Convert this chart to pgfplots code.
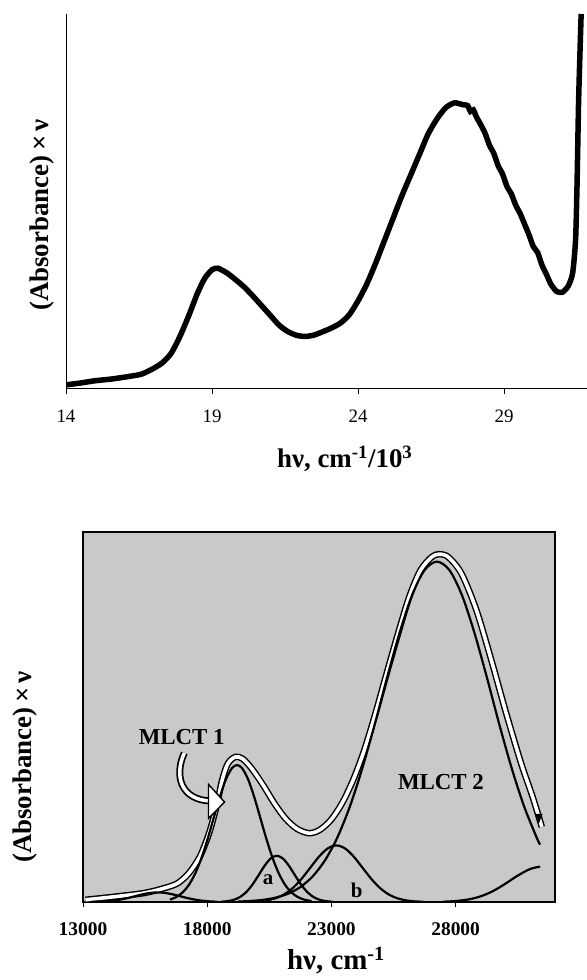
\documentclass[border=0pt]{standalone}
\usepackage{fontspec}
\setmainfont{Liberation Serif}
\usepackage{pgfplots}
\pgfplotsset{compat=1.18}
\usetikzlibrary{arrows.meta}
\begin{document}
\begin{tikzpicture}
\useasboundingbox (0,0) rectangle (587bp,980bp);
% ---------------- top panel ----------------
\begin{axis}[
  at={(66bp,591bp)}, anchor=south west,
  scale only axis, width=521bp, height=375bp,
  xmin=14, xmax=31.84, ymin=0, ymax=100,
  axis x line*=bottom, axis y line*=left,
  axis line style={line width=1bp},
  xtick={14,19,24,29}, ytick=\empty,
  tick align=outside, major tick length=5bp,
  tick style={line width=0.8bp, black},
  /pgf/number format/assume math mode=true,
  xticklabel style={font=\fontsize{19}{21}\selectfont, yshift=-12bp},
  xlabel={\textbf{hν, cm\textsuperscript{-1}/10\textsuperscript{3}}},
  xlabel style={font=\fontsize{27}{29}\selectfont, at={(axis description cs:0.535,0)}, anchor=north, yshift=-54bp},
  ylabel={\textbf{(Absorbance)\,×\,ν}},
  ylabel style={font=\fontsize{27}{29}\selectfont, at={(axis description cs:-0.046,0.464)}, anchor=center},
]
\addplot[black, line width=5.5bp, smooth, tension=0.4] coordinates {
(14.0,1.1) (14.5,1.6) (15.0,2.2) (15.6,2.7) (16.2,3.4) (16.6,4.0) (17.0,5.5)
(17.3,7.0) (17.6,9.5) (17.9,14) (18.2,19.5) (18.5,25.5) (18.75,29.5) (19.0,31.8)
(19.2,32.2) (19.5,31.0) (19.8,29.2) (20.1,27.2) (20.4,24.8) (20.7,22.2) (21.0,19.6)
(21.3,17.0) (21.6,15.3) (21.9,14.3) (22.2,14.0) (22.5,14.4) (22.8,15.3) (23.1,16.3)
(23.4,17.6) (23.7,19.8) (24.0,23.5) (24.3,28.0) (24.6,33.5) (24.9,39.5) (25.2,45.5)
(25.5,51.5) (25.8,57.0) (26.1,62.5) (26.4,68) (26.7,72) (27.0,75) (27.3,76.3)
(27.6,75.8) (27.75,75.6) (27.85,74.0) (27.95,74.4) (28.05,72.6) (28.2,70.5) (28.35,68.2)
(28.5,65) (28.65,62.8) (28.8,59.5) (28.95,57.3) (29.1,54) (29.25,52.0) (29.4,49)
(29.55,46.8) (29.7,44) (29.85,41.2) (30.0,38) (30.15,36.4) (30.3,33) (30.45,30.6)
(30.6,28) (30.8,26) (31.0,25.8) (31.2,27.5) (31.35,31) (31.45,40) (31.5,55)
(31.55,76) (31.6,90) (31.64,100)
};
\end{axis}
% ---------------- bottom panel ----------------
\begin{axis}[
  at={(83bp,78bp)}, anchor=south west,
  scale only axis, width=472bp, height=370bp,
  xmin=13000, xmax=32000, ymin=0, ymax=100,
  axis background/.style={fill=black!21},
  axis line style={line width=1.6bp},
  xtick={13000,18000,23000,28000}, ytick=\empty, xtick pos=bottom,
  scaled ticks=false,
  tick align=outside, major tick length=5bp,
  tick style={line width=1bp, black},
  /pgf/number format/1000 sep={},
  /pgf/number format/assume math mode=true,
  xticklabel style={font=\bfseries\fontsize{19.5}{21}\selectfont, yshift=-12bp},
  xlabel={\textbf{hν, cm\textsuperscript{-1}}},
  xlabel style={font=\fontsize{29}{31}\selectfont, at={(axis description cs:0.536,0)}, anchor=north, yshift=-42bp},
  ylabel={\textbf{(Absorbance)\,×\,ν}},
  ylabel style={font=\fontsize{27}{29}\selectfont, at={(axis description cs:-0.123,0.365)}, anchor=center},
  clip=true,
]
% envelope (experimental spectrum): white line with black outline
\addplot[black, line width=6.5bp, smooth] coordinates {
(13100,0.6) (14230,1.4) (15440,2.4) (16190,3.6) (16790,5.0) (17250,7.7) (17700,12.2)
(18070,18.5) (18370,25.7) (18600,32.9) (18830,37.4) (19130,39.2) (19430,38.7)
(19800,36.0) (20260,31.5) (20710,26.6) (21160,22.5) (21610,19.8) (22090,18.6)
(22510,19.4) (22970,22.1) (23420,26.6) (23870,32.9) (24320,41.0) (24770,50.9)
(25220,61.7) (25680,72.5) (26130,82.4) (26580,89.6) (27030,93.2) (27330,94.0)
(27710,93.2) (28240,88.7) (28840,78.8) (29440,65.3) (30040,50.9) (30640,37.4)
(31100,28.4) (31470,20.3)
};
\addplot[white, line width=3.6bp, smooth] coordinates {
(13100,0.6) (14230,1.4) (15440,2.4) (16190,3.6) (16790,5.0) (17250,7.7) (17700,12.2)
(18070,18.5) (18370,25.7) (18600,32.9) (18830,37.4) (19130,39.2) (19430,38.7)
(19800,36.0) (20260,31.5) (20710,26.6) (21160,22.5) (21610,19.8) (22090,18.6)
(22510,19.4) (22970,22.1) (23420,26.6) (23870,32.9) (24320,41.0) (24770,50.9)
(25220,61.7) (25680,72.5) (26130,82.4) (26580,89.6) (27030,93.2) (27330,94.0)
(27710,93.2) (28240,88.7) (28840,78.8) (29440,65.3) (30040,50.9) (30640,37.4)
(31100,28.4) (31470,20.3)
};
% low-energy band
\addplot[black, line width=2.2bp, smooth] coordinates {
(13300,0.03) (13600,0.075) (13900,0.17) (14200,0.36) (14500,0.65) (14800,1.07)
(15100,1.58) (15400,2.08) (15700,2.46) (16000,2.6) (16300,2.46) (16600,2.08)
(16900,1.58) (17200,1.07) (17500,0.65) (17800,0.36) (18100,0.17) (18400,0.075)
};
% MLCT 1
\addplot[black, line width=2.2bp, smooth] coordinates {
(16500,0.65) (16750,1.33) (17000,2.53) (17250,4.50) (17500,7.46) (17750,11.54)
(18000,16.66) (18250,22.44) (18500,28.2) (18750,33.1) (19000,36.2) (19200,37.0)
(19400,36.2) (19650,33.1) (19900,28.2) (20150,22.44) (20400,16.66) (20650,11.54)
(20900,7.46) (21150,4.50) (21400,2.53) (21650,1.33) (21900,0.65) (22200,0.25)
};
% band a
\addplot[black, line width=2.2bp, smooth] coordinates {
(18550,0.07) (18800,0.21) (19050,0.55) (19300,1.26) (19550,2.54) (19800,4.50)
(20050,7.04) (20300,9.69) (20550,11.73) (20800,12.5) (21050,11.73) (21300,9.69)
(21550,7.04) (21800,4.50) (22050,2.54) (22300,1.26) (22550,0.55) (22800,0.21) (23050,0.07)
};
% band b
\addplot[black, line width=2.2bp, smooth] coordinates {
(19700,0.06) (20050,0.17) (20400,0.44) (20750,1.01) (21100,2.07) (21450,3.81)
(21800,6.29) (22150,9.28) (22500,12.25) (22850,14.47) (23200,15.3) (23550,14.47)
(23900,12.25) (24250,9.28) (24600,6.29) (24950,3.81) (25300,2.07) (25650,1.01)
(26000,0.44) (26350,0.17) (26700,0.06)
};
% MLCT 2
\addplot[black, line width=2.2bp, smooth] coordinates {
(19250,0.12) (19750,0.28) (20250,0.58) (20750,1.17) (21250,2.23) (21750,4.04)
(22250,6.95) (22750,11.35) (23250,17.6) (23750,25.95) (24250,36.3) (24750,48.2)
(25250,60.9) (25750,72.9) (26250,83.0) (26750,89.7) (27250,92.0) (27750,89.7)
(28250,83.0) (28750,72.9) (29250,60.9) (29750,48.2) (30250,36.3) (30750,25.95)
(31250,17.6) (31400,15.5)
};
% UV band (high energy)
\addplot[black, line width=2.2bp, smooth] coordinates {
(27500,0.08) (28000,0.26) (28500,0.67) (29000,1.51) (29500,2.94) (30000,4.93)
(30500,7.14) (31000,8.92) (31400,9.57)
};
% annotations
\node[font=\bfseries\fontsize{23}{25}\selectfont] at (axis cs:16975,44.6) {MLCT 1};
\node[font=\bfseries\fontsize{23}{25}\selectfont] at (axis cs:27410,32.4) {MLCT 2};
\node[font=\bfseries\fontsize{21}{23}\selectfont] at (axis cs:20450,6.0) {a};
\node[font=\bfseries\fontsize{21}{23}\selectfont] at (axis cs:24020,3.2) {b};
\draw[black, line width=7bp] (axis cs:17080,40.3) .. controls (axis cs:16650,34) and (axis cs:16950,27.5) .. (axis cs:18150,27.3);
\draw[white, line width=3.5bp] (axis cs:17080,40.3) .. controls (axis cs:16650,34) and (axis cs:16950,27.5) .. (axis cs:18150,27.3);
\filldraw[fill=white, draw=black, line width=1.4bp] (axis cs:18050,31.8) -- (axis cs:18700,27.0) -- (axis cs:18050,22.6) -- cycle;
\fill[black] (axis cs:31200,23.8) -- (axis cs:31500,23.8) -- (axis cs:31350,21.2) -- cycle;
\end{axis}
\end{tikzpicture}
\end{document}
